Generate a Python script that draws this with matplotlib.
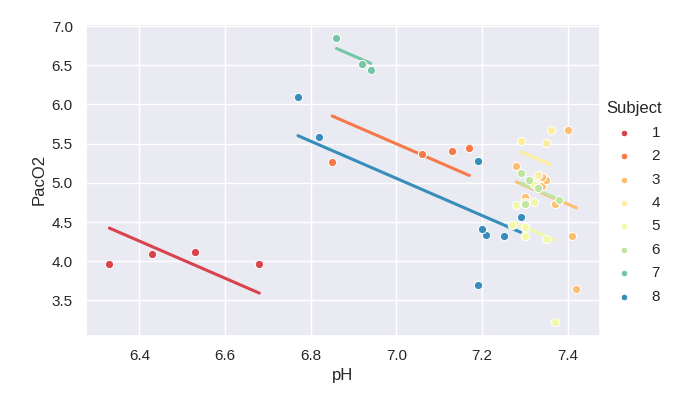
import numpy as np
import matplotlib
matplotlib.use("Agg")
import matplotlib.pyplot as plt
import seaborn as sns

# Bland & Altman repeated measures data
subjects = [1, 2, 3, 4, 5, 6, 7, 8]
ph = {
    1: [6.68, 6.53, 6.43, 6.33],
    2: [6.85, 7.06, 7.13, 7.17],
    3: [7.40, 7.42, 7.41, 7.37, 7.34, 7.35, 7.28, 7.30, 7.34],
    4: [7.36, 7.33, 7.29, 7.30, 7.35],
    5: [7.35, 7.30, 7.30, 7.37, 7.27, 7.28, 7.32, 7.32],
    6: [7.38, 7.30, 7.29, 7.33, 7.31, 7.33],
    7: [6.86, 6.94, 6.92],
    8: [7.19, 7.29, 7.21, 7.25, 7.20, 7.19, 6.77, 6.82],
}
paco2 = {
    1: [3.97, 4.12, 4.09, 3.97],
    2: [5.27, 5.37, 5.41, 5.44],
    3: [5.67, 3.64, 4.32, 4.73, 4.96, 5.04, 5.22, 4.82, 5.07],
    4: [5.67, 5.10, 5.53, 4.75, 5.51],
    5: [4.28, 4.44, 4.32, 3.23, 4.46, 4.72, 4.76, 4.99],
    6: [4.78, 4.73, 5.12, 4.93, 5.03, 4.93],
    7: [6.85, 6.44, 6.52],
    8: [5.28, 4.56, 4.34, 4.32, 4.41, 3.69, 6.09, 5.58],
}

sns.set_theme(style="darkgrid", context="notebook")
plt.rcParams['font.family'] = ['Liberation Sans', 'DejaVu Sans']
colors = sns.color_palette("Spectral", len(subjects))

# common within-subject slope (ANCOVA / repeated measures correlation)
num, den = 0.0, 0.0
for s in subjects:
    x = np.array(ph[s]); y = np.array(paco2[s])
    num += np.sum((x - x.mean()) * (y - y.mean()))
    den += np.sum((x - x.mean()) ** 2)
slope = num / den

fig, ax = plt.subplots(figsize=(6.8, 4.05), dpi=100)
fig.subplots_adjust(left=0.1265, right=0.882, top=0.9417, bottom=0.171)

for s, c in zip(subjects, colors):
    x = np.array(ph[s]); y = np.array(paco2[s])
    xs = np.array([x.min(), x.max()])
    ax.plot(xs, y.mean() + slope * (xs - x.mean()), color=c, lw=2.2)
for s, c in zip(subjects, colors):
    ax.scatter(ph[s], paco2[s], s=36, color=c, edgecolor="white", linewidth=0.75,
               label=str(s), zorder=3)

ax.set_xlabel("pH")
ax.set_ylabel("PacO2")
ax.set_xticks([6.4, 6.6, 6.8, 7.0, 7.2, 7.4])
ax.set_yticks([3.5, 4.0, 4.5, 5.0, 5.5, 6.0, 6.5, 7.0])

handles, labels = ax.get_legend_handles_labels()
leg = fig.legend(handles, labels, title="Subject", loc="center left",
                 bbox_to_anchor=(0.872, 0.5), frameon=False, fontsize=11,
                 title_fontsize=12, markerscale=0.8, labelspacing=0.62)

plt.savefig("out.png", dpi=100)
